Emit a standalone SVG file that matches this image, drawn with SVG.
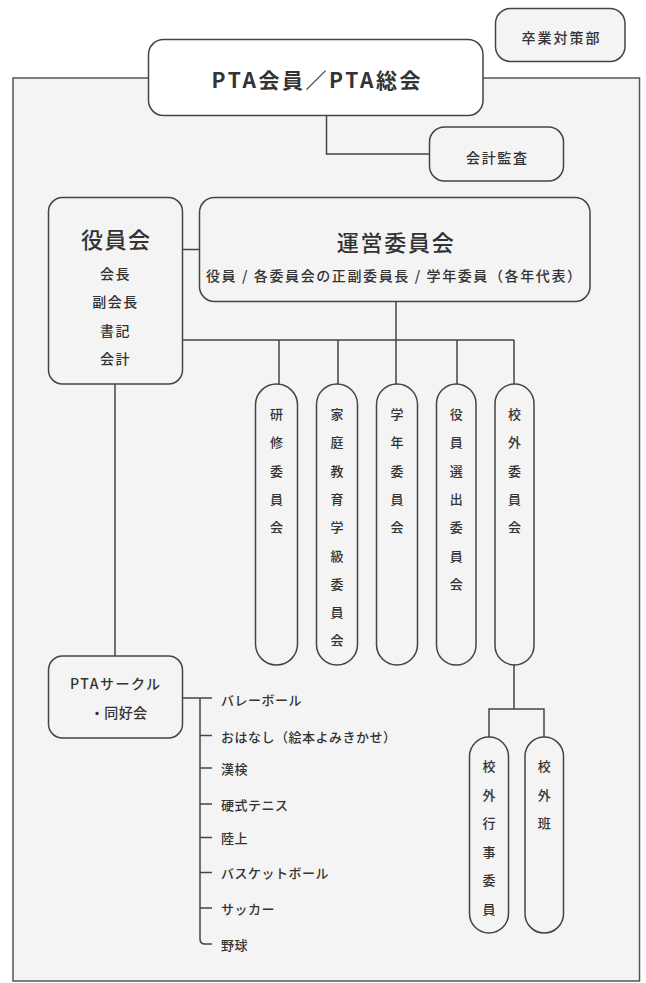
<svg xmlns="http://www.w3.org/2000/svg" width="646" height="983" viewBox="0 0 646 983">
<style>
text{font-family:"Noto Sans CJK JP","Noto Sans",sans-serif;fill:#333;font-weight:500;}
.box{fill:#f4f4f4;stroke:#444;stroke-width:1.5;}
.conn{fill:none;stroke:#444;stroke-width:1.5;}
.s14{font-size:14px;}
.s13{font-size:13px;}
.big{font-size:22px;}
.c{text-anchor:middle;}
</style>
<rect x="0" y="0" width="646" height="983" fill="#ffffff"/>
<rect id="frame" x="13" y="78" width="626.5" height="903" fill="#f4f4f4" stroke="#555" stroke-width="1.5"/>
<g id="connectors">
<path class="conn" d="M326.5 115.5 V154 H430"/>
<path class="conn" d="M182.5 249.5 H199.5"/>
<path class="conn" d="M396 301.5 V340"/>
<path class="conn" d="M182.5 340 H514"/>
<path class="conn" d="M279 340 V384 M338 340 V384 M396 340 V384 M457 340 V384 M514 340 V384"/>
<path class="conn" d="M115 384 V656"/>
<path class="conn" d="M514 665 V709 M489 737 V709 H544 V737"/>
<path class="conn" d="M182 698 H212 M200 698 V939 Q200 944 205 944 H212 M200 735.5 H212 M200 768 H212 M200 804 H212 M200 837.5 H212 M200 872.5 H212 M200 908 H212"/>
</g>
<g id="sotsugyo">
<rect class="box" x="495.5" y="8.5" width="129.5" height="53" rx="15"/>
<text class="s14" x="521.5" y="37" dominant-baseline="central" textLength="78" lengthAdjust="spacing">卒業対策部</text>
</g>
<g id="pta">
<rect x="148.5" y="39.5" width="334.5" height="76" rx="15" fill="#ffffff" stroke="#444" stroke-width="1.5"/>
<text x="211.5" y="79" dominant-baseline="central" font-size="21" style="font-weight:700" fill="#222" textLength="209" lengthAdjust="spacing">PTA会員／PTA総会</text>
</g>
<g id="kaikei-kansa">
<rect class="box" x="429.5" y="127" width="134" height="54" rx="15"/>
<text class="s14" x="466" y="156.5" dominant-baseline="central" textLength="61" lengthAdjust="spacing">会計監査</text>
</g>
<g id="yakuinkai">
<rect class="box" x="48.5" y="197.5" width="134" height="186.5" rx="14"/>
<text class="big" x="81" y="238" dominant-baseline="central" textLength="69" lengthAdjust="spacing">役員会</text>
<text class="s14 c" x="115.5" y="273" dominant-baseline="central" letter-spacing="1.5">会長</text>
<text class="s14 c" x="115.5" y="301" dominant-baseline="central" letter-spacing="1.5">副会長</text>
<text class="s14 c" x="115.5" y="330" dominant-baseline="central" letter-spacing="1.5">書記</text>
<text class="s14 c" x="115.5" y="358" dominant-baseline="central" letter-spacing="1.5">会計</text>
</g>
<g id="unei">
<rect class="box" x="199.5" y="197.5" width="390.5" height="104" rx="15"/>
<text class="big" x="336.7" y="241" dominant-baseline="central" textLength="117" lengthAdjust="spacing">運営委員会</text>
<text class="s14" x="206" y="275" dominant-baseline="central" textLength="375" lengthAdjust="spacing">役員 / 各委員会の正副委員長 / 学年委員（各年代表）</text>
</g>
<g id="kenshu">
<rect class="box" x="255.5" y="384" width="42" height="281" rx="21"/>
<text class="s13 c" x="276.5" dominant-baseline="central"><tspan x="276.5" y="413">研</tspan><tspan x="276.5" y="441.3">修</tspan><tspan x="276.5" y="469.6">委</tspan><tspan x="276.5" y="497.9">員</tspan><tspan x="276.5" y="526.2">会</tspan></text>
</g>
<g id="katei">
<rect class="box" x="316.5" y="384" width="41" height="281" rx="20.5"/>
<text class="s13 c" x="337" dominant-baseline="central"><tspan x="337" y="413">家</tspan><tspan x="337" y="441.3">庭</tspan><tspan x="337" y="469.6">教</tspan><tspan x="337" y="497.9">育</tspan><tspan x="337" y="526.2">学</tspan><tspan x="337" y="554.5">級</tspan><tspan x="337" y="582.8">委</tspan><tspan x="337" y="611.1">員</tspan><tspan x="337" y="639.4">会</tspan></text>
</g>
<g id="gakunen">
<rect class="box" x="376.5" y="384" width="41" height="281" rx="20.5"/>
<text class="s13 c" x="397" dominant-baseline="central"><tspan x="397" y="413">学</tspan><tspan x="397" y="441.3">年</tspan><tspan x="397" y="469.6">委</tspan><tspan x="397" y="497.9">員</tspan><tspan x="397" y="526.2">会</tspan></text>
</g>
<g id="yakuin-senshutsu">
<rect class="box" x="436.5" y="384" width="39.5" height="281" rx="19.75"/>
<text class="s13 c" x="456.3" dominant-baseline="central"><tspan x="456.3" y="413">役</tspan><tspan x="456.3" y="441.3">員</tspan><tspan x="456.3" y="469.6">選</tspan><tspan x="456.3" y="497.9">出</tspan><tspan x="456.3" y="526.2">委</tspan><tspan x="456.3" y="554.5">員</tspan><tspan x="456.3" y="582.8">会</tspan></text>
</g>
<g id="kougai">
<rect class="box" x="495" y="384" width="39" height="281" rx="19.5"/>
<text class="s13 c" x="514.5" dominant-baseline="central"><tspan x="514.5" y="413">校</tspan><tspan x="514.5" y="441.3">外</tspan><tspan x="514.5" y="469.6">委</tspan><tspan x="514.5" y="497.9">員</tspan><tspan x="514.5" y="526.2">会</tspan></text>
</g>
<g id="kougai-gyouji">
<rect class="box" x="469.5" y="737" width="39" height="196" rx="19.5"/>
<text class="s13 c" x="489" dominant-baseline="central"><tspan x="489" y="765">校</tspan><tspan x="489" y="793.6">外</tspan><tspan x="489" y="822.2">行</tspan><tspan x="489" y="850.8">事</tspan><tspan x="489" y="879.4">委</tspan><tspan x="489" y="908">員</tspan></text>
</g>
<g id="kougai-han">
<rect class="box" x="525" y="737" width="38.5" height="196" rx="19.25"/>
<text class="s13 c" x="544.2" dominant-baseline="central"><tspan x="544.2" y="765">校</tspan><tspan x="544.2" y="793.6">外</tspan><tspan x="544.2" y="822.2">班</tspan></text>
</g>
<g id="circle">
<rect class="box" x="48.5" y="656" width="134" height="82" rx="14"/>
<text class="s14" x="70" y="683" dominant-baseline="central" textLength="90" lengthAdjust="spacing">PTAサークル</text>
<text class="s14" x="90" y="712" dominant-baseline="central" textLength="57" lengthAdjust="spacing">・同好会</text>
</g>
<g id="circle-items">
<text class="s13" x="221" y="699" dominant-baseline="central" letter-spacing="0.5">バレーボール</text>
<text class="s13" x="221" y="736" dominant-baseline="central" letter-spacing="0.5">おはなし（絵本よみきかせ）</text>
<text class="s13" x="221" y="768" dominant-baseline="central" letter-spacing="0.5">漢検</text>
<text class="s13" x="221" y="804" dominant-baseline="central" letter-spacing="0.5">硬式テニス</text>
<text class="s13" x="221" y="837.5" dominant-baseline="central" letter-spacing="0.5">陸上</text>
<text class="s13" x="221" y="872.5" dominant-baseline="central" letter-spacing="0.5">バスケットボール</text>
<text class="s13" x="221" y="908" dominant-baseline="central" letter-spacing="0.5">サッカー</text>
<text class="s13" x="221" y="944" dominant-baseline="central" letter-spacing="0.5">野球</text>
</g>
</svg>
